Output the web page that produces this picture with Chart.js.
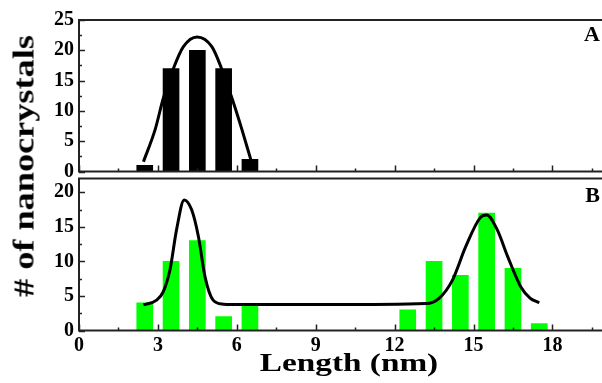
<!DOCTYPE html>
<html>
<head>
<meta charset="utf-8">
<script src="https://cdn.jsdelivr.net/npm/chart.js@4.4.1/dist/chart.umd.min.js"></script>
<style>
  html, body { margin: 0; padding: 0; background: #fff; }
  #wrap { position: relative; width: 602px; height: 383px; overflow: hidden; }
  canvas { position: absolute; left: 0; }
  .lbl { position: absolute; font-family: 'Liberation Serif', 'Times New Roman', serif; font-weight: bold; color: #000; line-height: 1; white-space: nowrap; }
</style>
</head>
<body>
<div id="wrap">
  <canvas id="chartA" width="610" height="190" style="top:0"></canvas>
  <canvas id="chartB" width="610" height="223" style="top:160px"></canvas>
  <div class="lbl" style="font-size:22px; right:2px; top:23px;">A</div>
  <div class="lbl" style="font-size:22px; right:2px; top:184px;">B</div>
  <div class="lbl" style="font-size:29px; left:24px; top:166px; transform: translate(-50%,-50%) rotate(-90deg) scaleX(1.25);"># of nanocrystals</div>
  <div class="lbl" style="font-size:26px; left:349px; top:350px; transform: translateX(-50%) scaleX(1.28);">Length (nm)</div>
</div>
<script>
// histogram bins (nm) and counts
const binsA = [2.5, 3.5, 4.5, 5.5, 6.5];
const countsA = [1, 17, 20, 17, 2];
const fitAx = [2.45, 2.9, 3.2, 3.59, 3.97, 4.49, 5.05, 5.42, 5.87, 6.19, 6.53];
const fitAy = [1.6, 7, 12, 17, 20.6, 22.2, 20.6, 17, 11.4, 7, 2];

const binsB = [2.5, 3.5, 4.5, 5.5, 6.5, 12.5, 13.5, 14.5, 15.5, 16.5, 17.5];
const countsB = [4, 10, 13, 2, 3.6, 3, 10, 8, 17, 9, 1];
const fitBx = [2.45, 2.95, 3.2, 3.46, 3.71, 4.0, 4.28, 4.54, 4.79, 5.1, 5.49, 5.8, 9.5, 13.2, 13.7, 14.2, 14.7, 15.25, 15.5, 15.9, 16.3, 16.8, 17.15, 17.5];
const fitBy = [3.7, 4.4, 5.6, 8.8, 14.6, 18.9, 17.5, 13.6, 7.8, 4.4, 3.8, 3.75, 3.75, 3.9, 4.7, 7.3, 12.1, 16.3, 16.7, 14.6, 10.7, 6.3, 4.7, 4.0];

const xTicks = [0, 3, 6, 9, 12, 15, 18];
const yTicksA = [0, 5, 10, 15, 20, 25];
const yTicksB = [0, 5, 10, 15, 20];

const tickFont = { family: "'Liberation Serif', 'Times New Roman', serif", weight: 'bold', size: 20 };

function pts(xs, ys) {
    return xs.map((x, i) => ({ x: x, y: ys[i] }));
}

// frame + inward tick marks
const framePlugin = {
    id: 'frame',
    afterDraw(chart) {
        const ctx = chart.ctx;
        const a = chart.chartArea;
        const xs = chart.scales.x, ys = chart.scales.y;
        ctx.save();
        ctx.strokeStyle = '#222';
        ctx.lineWidth = 1.5;
        ctx.beginPath();
        for (let v = xs.min; v <= xs.max + 1e-6; v += 1.5) {
            const px = Math.round(xs.getPixelForValue(v)) + 0.5;
            const len = (v % 3 === 0) ? 6 : 3;
            ctx.moveTo(px, a.bottom);
            ctx.lineTo(px, a.bottom - len);
        }
        for (let v = ys.min; v <= ys.max + 1e-6; v += 2.5) {
            const py = Math.round(ys.getPixelForValue(v)) + 0.5;
            const len = (v % 5 === 0) ? 6 : 3;
            ctx.moveTo(a.left, py);
            ctx.lineTo(a.left + len, py);
        }
        ctx.stroke();
        ctx.lineWidth = 2;
        ctx.strokeRect(a.left, a.top, a.right - a.left, a.bottom - a.top);
        ctx.restore();
    }
};

function makeChart(id, bins, counts, fx, fy, barColor, yMax, yTicks, showX, padTop, xHeight) {
    return new Chart(document.getElementById(id), {
        type: 'bar',
        data: {
            datasets: [
                {
                    type: 'line',
                    data: pts(fx, fy),
                    borderColor: '#000',
                    borderWidth: 3,
                    pointRadius: 0,
                    cubicInterpolationMode: 'monotone',
                    order: 0
                },
                {
                    type: 'bar',
                    data: pts(bins, counts),
                    backgroundColor: barColor,
                    barThickness: 16,
                    order: 1
                }
            ]
        },
        options: {
            responsive: false,
            devicePixelRatio: 1,
            animation: false,
            layout: { padding: { top: padTop, right: 5, left: 0, bottom: 0 } },
            plugins: { legend: { display: false }, tooltip: { enabled: false } },
            scales: {
                x: {
                    type: 'linear',
                    min: 0, max: 20,
                    offset: false,
                    afterBuildTicks: s => { s.ticks = xTicks.map(v => ({ value: v })); },
                    afterFit: s => { s.height = xHeight; },
                    grid: { display: false, drawTicks: false },
                    border: { display: false },
                    ticks: { display: showX, color: '#000', font: tickFont, padding: 3, maxRotation: 0, autoSkip: false }
                },
                y: {
                    min: 0, max: yMax,
                    afterBuildTicks: s => { s.ticks = yTicks.map(v => ({ value: v })); },
                    afterFit: s => { s.width = 79; },
                    grid: { display: false, drawTicks: false },
                    border: { display: false },
                    ticks: { color: '#000', font: tickFont, padding: 5 }
                }
            }
        },
        plugins: [framePlugin]
    });
}

makeChart('chartA', binsA, countsA, fitAx, fitAy, '#000', 25, yTicksA, false, 20, 18.5);
makeChart('chartB', binsB, countsB, fitBx, fitBy, '#00ff00', 22, yTicksB, true, 18.5, 52.5);
</script>
</body>
</html>
